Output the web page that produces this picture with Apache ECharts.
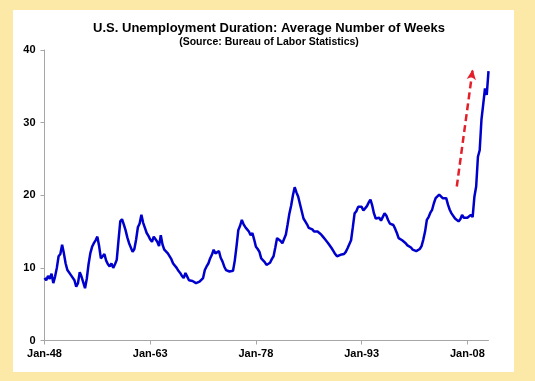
<!DOCTYPE html>
<html>
<head>
<meta charset="utf-8">
<script src="https://cdn.jsdelivr.net/npm/echarts@6/dist/echarts.min.js"></script>
<style>
html,body{margin:0;padding:0;background:#FCE9A8;}
#chart{width:535px;height:381px;}
</style>
</head>
<body>
<div id="chart"></div>
<script>
const titleText = 'U.S. Unemployment Duration: Average Number of Weeks';
const subtitleText = '(Source: Bureau of Labor Statistics)';
const startYear = 1948;
const quarterMonths = ['Jan', 'Apr', 'Jul', 'Oct'];
const yTicks = [0, 10, 20, 30, 40];
// quarterly average duration (weeks), Jan-48 ... Jan-11
const weeks = [
  8.6, 8.3, 8.9, 8.5,
  9.2, 7.9, 8.8, 10.0,
  11.6, 11.9, 13.2, 12.0,
  10.6, 9.7, 9.8, 9.0,
  8.9, 8.3, 7.4, 7.9,
  9.4, 8.8, 8.0, 7.2,
  8.5, 10.5, 12.0, 12.9,
  13.4, 13.8, 14.3, 13.0,
  11.3, 11.6, 11.9, 11.0,
  10.5, 10.2, 10.6, 10.0,
  10.5, 11.1, 13.8, 16.4,
  16.7, 16.0, 15.2, 14.2,
  13.4, 13.2, 12.2, 12.6,
  13.9, 15.6, 16.1, 17.3,
  16.2, 15.5, 14.8, 14.4,
  13.9, 13.6, 14.3, 14.1,
  13.6, 13.0, 14.5, 13.2,
  12.5, 12.3, 12.0, 11.8,
  11.2, 10.6, 10.4, 10.0,
  9.6, 9.3, 8.9, 8.6,
  9.3, 8.8, 8.3, 8.4,
  8.2, 8.0, 7.9, 7.8,
  8.1, 8.3, 8.6, 9.7,
  10.2, 10.6, 11.3, 11.8,
  12.5, 12.0, 11.8, 12.3,
  11.4, 10.9, 10.2, 9.7,
  9.8, 9.5, 9.7, 9.6,
  11.0, 13.0, 15.2, 15.8,
  16.6, 16.0, 15.6, 15.3,
  15.0, 14.5, 14.8, 13.9,
  12.9, 12.6, 12.2, 11.3,
  11.1, 10.8, 10.4, 10.4,
  10.7, 11.2, 11.6, 12.8,
  14.1, 13.9, 13.7, 13.4,
  13.4, 14.6, 16.0, 17.5,
  18.6, 20.0, 21.1, 20.4,
  19.8, 18.8, 17.8, 16.8,
  16.4, 16.0, 15.5, 15.4,
  15.3, 15.0, 15.2, 15.0,
  14.8, 14.6, 14.3, 14.0,
  13.8, 13.4, 13.2, 12.7,
  12.3, 11.9, 11.6, 11.6,
  11.8, 11.8, 11.9, 12.2,
  12.7, 12.9, 13.8, 15.6,
  17.5, 17.8, 18.4, 18.2,
  18.4, 17.9, 18.1, 18.5,
  19.0, 19.4, 18.6, 17.5,
  16.8, 16.6, 16.9, 16.5,
  16.3, 17.5, 17.2, 16.6,
  16.1, 16.0, 15.9, 15.4,
  14.8, 14.1, 14.1, 13.8,
  13.6, 13.4, 13.1, 12.9,
  12.8, 12.5, 12.4, 12.3,
  12.2, 12.6, 13.0, 13.9,
  15.0, 16.6, 17.0, 17.6,
  18.0, 18.9, 19.6, 19.8,
  20.1, 20.3, 19.6, 19.7,
  19.6, 18.7, 18.0, 17.5,
  17.3, 16.8, 16.6, 16.4,
  16.7, 17.3, 16.9, 16.7,
  16.9, 17.1, 17.3, 17.0,
  19.8, 21.2, 25.3, 26.2,
  30.4, 32.5, 34.7, 33.8,
  37.1
];
// red dashed arrow annotation, in data units [category index, weeks]
const arrowFrom = [234, 21.2];
const arrowTo = [243, 37.3];

const categories = weeks.map((_, i) => {
  const y = startYear + Math.floor(i / 4);
  return quarterMonths[i % 4] + '-' + String(y % 100).padStart(2, '0');
});
const labelEvery = 60;

const chart = echarts.init(document.getElementById('chart'), null, {renderer: 'canvas'});
chart.setOption({
  animation: false,
  backgroundColor: '#FCE9A8',
  textStyle: {fontFamily: 'Liberation Sans, Arial, sans-serif'},
  graphic: [{
    type: 'rect', z: -10, silent: true,
    shape: {x: 13, y: 10, width: 501, height: 362},
    style: {fill: '#FFFFFF'}
  }],
  title: {
    text: titleText,
    subtext: subtitleText,
    left: 264, top: 17, textAlign: 'center',
    itemGap: 2,
    textStyle: {fontSize: 13, fontWeight: 'bold', color: '#000', fontFamily: 'Liberation Sans, Arial, sans-serif'},
    subtextStyle: {fontSize: 10.5, fontWeight: 'bold', color: '#000', fontFamily: 'Liberation Sans, Arial, sans-serif'}
  },
  grid: {left: 44.5, right: 46.5, top: 50, bottom: 40.5, containLabel: false},
  xAxis: {
    type: 'category',
    data: categories,
    boundaryGap: false,
    axisLine: {lineStyle: {color: '#A6A6A6', width: 1}},
    axisTick: {show: true, length: 4, interval: (i) => i % labelEvery === 0, lineStyle: {color: '#A6A6A6'}},
    axisLabel: {
      interval: (i) => i % labelEvery === 0,
      fontSize: 11, fontWeight: 'bold', color: '#000', margin: 8
    },
    splitLine: {show: false}
  },
  yAxis: {
    type: 'value',
    min: yTicks[0], max: yTicks[yTicks.length - 1], interval: 10,
    axisLine: {show: true, lineStyle: {color: '#A6A6A6', width: 1}},
    axisTick: {show: true, length: 4, lineStyle: {color: '#A6A6A6'}},
    axisLabel: {fontSize: 11, fontWeight: 'bold', color: '#000', margin: 9},
    splitLine: {show: false}
  },
  series: [{
    type: 'line',
    data: weeks,
    showSymbol: false,
    symbol: 'none',
    lineStyle: {color: '#0000CC', width: 2.5},
    silent: true,
    markLine: {
      silent: true,
      symbol: ['none', 'arrow'],
      symbolSize: [7, 10],
      label: {show: false},
      lineStyle: {color: '#E3202A', width: 2.5, type: [7, 4]},
      emphasis: {disabled: true},
      data: [[{coord: arrowFrom}, {coord: arrowTo}]]
    }
  }]
});
</script>
</body>
</html>
